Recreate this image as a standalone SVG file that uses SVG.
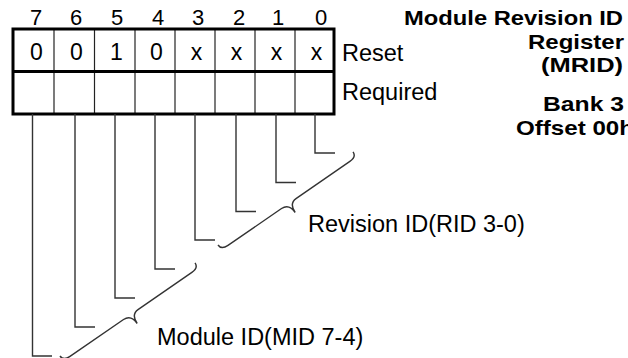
<svg xmlns="http://www.w3.org/2000/svg" width="628" height="358" viewBox="0 0 628 358">
<style>
text{font-family:"Liberation Sans",Arial,sans-serif;fill:#000}
.num{font-size:22px;text-anchor:middle}
.val{font-size:23px;text-anchor:middle}
.lbl{font-size:23.5px}
.ttl{font-size:21px;font-weight:bold}
.thick{fill:none;stroke:#000;stroke-width:3}
.div{stroke:#222;stroke-width:1.2}
.lead{fill:none;stroke:#333;stroke-width:1.4}
</style>
<defs>
<path id="brace" d="M0,0 C0,4 2,6 8,6 L73,6 C79,6 82,10 82,17 C82,10 85,6 91,6 L156,6 C162,6 164,4 164,0"/>
</defs>
<g id="bit-numbers">
<text class="num" x="36" y="25">7</text>
<text class="num" x="76" y="25">6</text>
<text class="num" x="117" y="25">5</text>
<text class="num" x="158" y="25">4</text>
<text class="num" x="198" y="25">3</text>
<text class="num" x="239" y="25">2</text>
<text class="num" x="278" y="25">1</text>
<text class="num" x="321" y="25">0</text>
</g>
<g id="register">
<line class="div" x1="54" y1="29" x2="54" y2="114"/>
<line class="div" x1="94.5" y1="29" x2="94.5" y2="114"/>
<line class="div" x1="135" y1="29" x2="135" y2="114"/>
<line class="div" x1="175" y1="29" x2="175" y2="114"/>
<line class="div" x1="215" y1="29" x2="215" y2="114"/>
<line class="div" x1="255" y1="29" x2="255" y2="114"/>
<line class="div" x1="295" y1="29" x2="295" y2="114"/>
<rect class="thick" x="13" y="29" width="321" height="85"/>
<line class="thick" x1="13" y1="71.5" x2="334" y2="71.5"/>
<text class="val" x="36.5" y="60">0</text>
<text class="val" x="76.5" y="60">0</text>
<text class="val" x="116.5" y="60">1</text>
<text class="val" x="156.5" y="60">0</text>
<text class="val" x="196.5" y="60">x</text>
<text class="val" x="236.5" y="60">x</text>
<text class="val" x="276.5" y="60">x</text>
<text class="val" x="316.5" y="60">x</text>
</g>
<g id="row-labels">
<text class="lbl" x="342" y="61">Reset</text>
<text class="lbl" x="342" y="100">Required</text>
</g>
<g id="title">
<text class="ttl" x="404" y="25" textLength="219" lengthAdjust="spacingAndGlyphs">Module Revision ID</text>
<text class="ttl" x="528" y="48.5" textLength="96" lengthAdjust="spacingAndGlyphs">Register</text>
<text class="ttl" x="541" y="72" textLength="82" lengthAdjust="spacingAndGlyphs">(MRID)</text>
<text class="ttl" x="543" y="111" textLength="81" lengthAdjust="spacingAndGlyphs">Bank 3</text>
<text class="ttl" x="516" y="134.5" textLength="118" lengthAdjust="spacingAndGlyphs">Offset 00h</text>
</g>
<g id="connectors">
<path class="lead" d="M32.5,114 V356 H52"/>
<path class="lead" d="M75,114 V327 H95"/>
<path class="lead" d="M115,114 V298 H135"/>
<path class="lead" d="M155,114 V269 H175"/>
<path class="lead" d="M195,114 V240 H215"/>
<path class="lead" d="M236,114 V211.5 H256"/>
<path class="lead" d="M276,114 V182.5 H296"/>
<path class="lead" d="M315,114 V153 H335"/>
<use href="#brace" class="lead" transform="translate(218,245) rotate(-34.56)"/>
<use href="#brace" class="lead" transform="translate(60,356) rotate(-34.56)"/>
</g>
<g id="revision-id">
<text class="lbl" x="308" y="232">Revision ID(RID 3-0)</text>
</g>
<g id="module-id">
<text class="lbl" x="157" y="345">Module ID(MID 7-4)</text>
</g>
</svg>
